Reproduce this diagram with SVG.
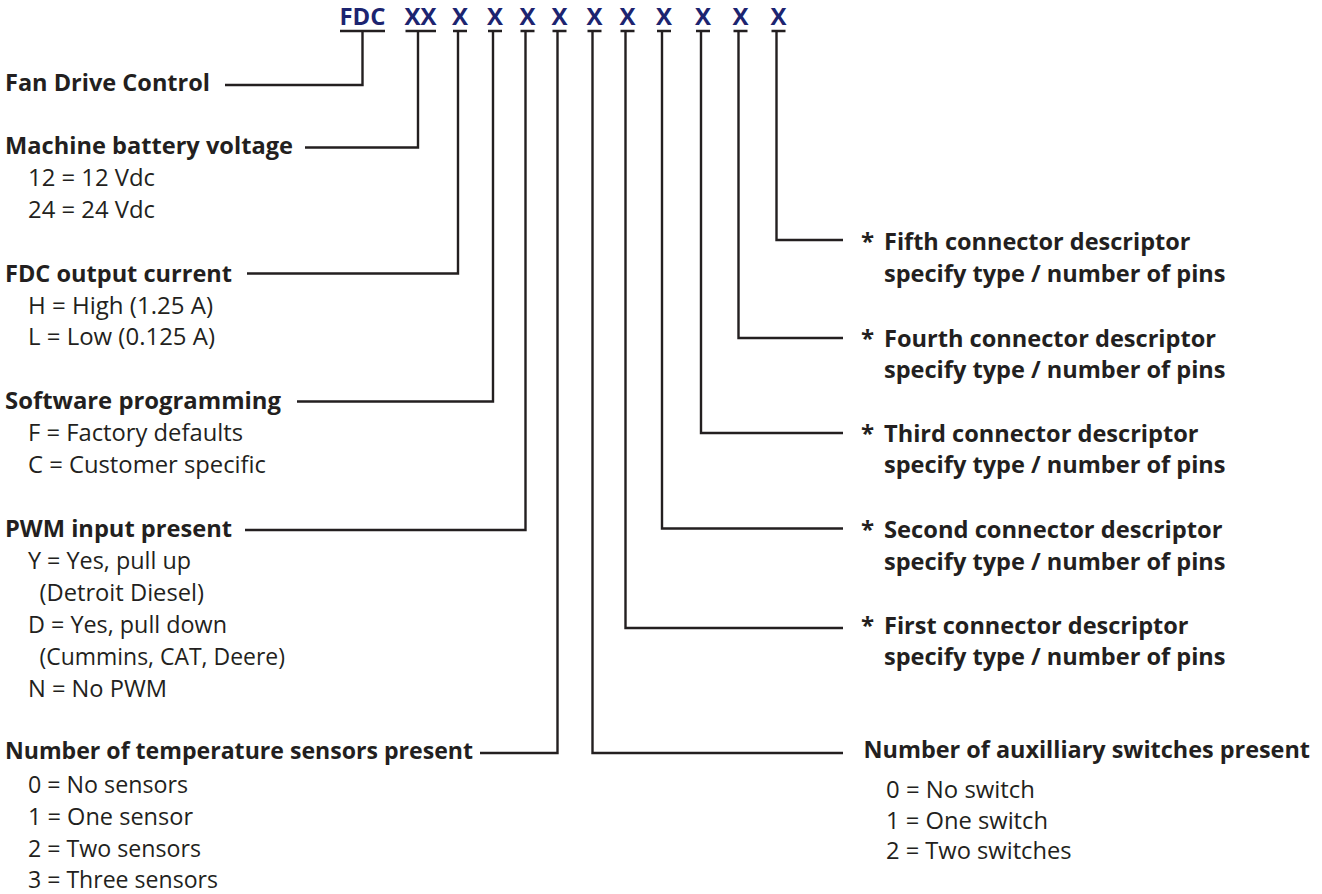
<svg xmlns="http://www.w3.org/2000/svg" width="1322" height="894" viewBox="0 0 1322 894">
<style>
  .code{font-family:"Open Sans","Liberation Sans",Arial,sans-serif;font-weight:bold;font-size:24px;fill:#1c2470;text-anchor:middle}
  .h{font-family:"Open Sans","Liberation Sans",Arial,sans-serif;font-weight:bold;font-size:24px;fill:#231f20}
  .t{font-family:"Open Sans","Liberation Sans",Arial,sans-serif;font-size:23.5px;fill:#231f20}
  .ul{stroke:#231f20;stroke-width:2.6;fill:none}
  .c{stroke:#231f20;stroke-width:2.4;fill:none}
</style>
<rect width="1322" height="894" fill="#ffffff"/>
<g id="code">
  <text class="code" x="362.5" y="25" textLength="46" lengthAdjust="spacingAndGlyphs">FDC</text>
  <text class="code" x="420.5" y="25" textLength="32" lengthAdjust="spacingAndGlyphs">XX</text>
  <text class="code" x="460" y="25">X</text>
  <text class="code" x="495" y="25">X</text>
  <text class="code" x="527.5" y="25">X</text>
  <text class="code" x="559.5" y="25">X</text>
  <text class="code" x="594.5" y="25">X</text>
  <text class="code" x="627.5" y="25">X</text>
  <text class="code" x="664" y="25">X</text>
  <text class="code" x="703" y="25">X</text>
  <text class="code" x="740.5" y="25">X</text>
  <text class="code" x="778.5" y="25">X</text>
  <path class="ul" d="M340 31H385 M405.5 31H436 M453 31H467 M488 31H502 M520.5 31H534.5 M552.5 31H566.5 M587.5 31H601.5 M620.5 31H634.5 M657 31H671 M696 31H710 M733.5 31H747.5 M771.5 31H785.5"/>
</g>
<g id="connectors">
  <path class="c" d="M362.5 31V85H225"/>
  <path class="c" d="M418 31V147.5H305"/>
  <path class="c" d="M458 31V273.5H247"/>
  <path class="c" d="M493 31V401.5H297"/>
  <path class="c" d="M525.5 31V530H245"/>
  <path class="c" d="M557.5 31V753H480"/>
  <path class="c" d="M592.5 31V753H843"/>
  <path class="c" d="M625.5 31V628H843"/>
  <path class="c" d="M662 31V528.5H843"/>
  <path class="c" d="M701 31V433H843"/>
  <path class="c" d="M738.5 31V338H843"/>
  <path class="c" d="M776.5 31V240H843"/>
</g>
<g id="fan-drive-control">
  <text class="h" x="5" y="90.5" textLength="205" lengthAdjust="spacingAndGlyphs">Fan Drive Control</text>
</g>
<g id="battery-voltage">
  <text class="h" x="5" y="154" textLength="288" lengthAdjust="spacingAndGlyphs">Machine battery voltage</text>
  <text class="t" x="28" y="186" textLength="127" lengthAdjust="spacingAndGlyphs">12 = 12 Vdc</text>
  <text class="t" x="28" y="218" textLength="127" lengthAdjust="spacingAndGlyphs">24 = 24 Vdc</text>
</g>
<g id="output-current">
  <text class="h" x="5" y="281.5" textLength="227" lengthAdjust="spacingAndGlyphs">FDC output current</text>
  <text class="t" x="28" y="313.5" textLength="185" lengthAdjust="spacingAndGlyphs">H = High (1.25 A)</text>
  <text class="t" x="28" y="345" textLength="187" lengthAdjust="spacingAndGlyphs">L = Low (0.125 A)</text>
</g>
<g id="software-programming">
  <text class="h" x="5" y="408.5" textLength="276" lengthAdjust="spacingAndGlyphs">Software programming</text>
  <text class="t" x="28" y="441" textLength="215" lengthAdjust="spacingAndGlyphs">F = Factory defaults</text>
  <text class="t" x="28" y="473" textLength="238" lengthAdjust="spacingAndGlyphs">C = Customer specific</text>
</g>
<g id="pwm-input">
  <text class="h" x="5" y="536.5" textLength="227" lengthAdjust="spacingAndGlyphs">PWM input present</text>
  <text class="t" x="28" y="569" textLength="163" lengthAdjust="spacingAndGlyphs">Y = Yes, pull up</text>
  <text class="t" x="39.5" y="601" textLength="164.5" lengthAdjust="spacingAndGlyphs">(Detroit Diesel)</text>
  <text class="t" x="28" y="633" textLength="199" lengthAdjust="spacingAndGlyphs">D = Yes, pull down</text>
  <text class="t" x="39.5" y="665" textLength="245.5" lengthAdjust="spacingAndGlyphs">(Cummins, CAT, Deere)</text>
  <text class="t" x="28" y="697" textLength="139" lengthAdjust="spacingAndGlyphs">N = No PWM</text>
</g>
<g id="temperature-sensors">
  <text class="h" x="5" y="759" textLength="468" lengthAdjust="spacingAndGlyphs">Number of temperature sensors present</text>
  <text class="t" x="28" y="792.5" textLength="160" lengthAdjust="spacingAndGlyphs">0 = No sensors</text>
  <text class="t" x="28" y="824.5" textLength="165" lengthAdjust="spacingAndGlyphs">1 = One sensor</text>
  <text class="t" x="28" y="856.5" textLength="173" lengthAdjust="spacingAndGlyphs">2 = Two sensors</text>
  <text class="t" x="28" y="888" textLength="190" lengthAdjust="spacingAndGlyphs">3 = Three sensors</text>
</g>
<g id="aux-switches">
  <text class="h" x="863.5" y="758" textLength="446.5" lengthAdjust="spacingAndGlyphs">Number of auxilliary switches present</text>
  <text class="t" x="886" y="798" textLength="149" lengthAdjust="spacingAndGlyphs">0 = No switch</text>
  <text class="t" x="886" y="828.5" textLength="162" lengthAdjust="spacingAndGlyphs">1 = One switch</text>
  <text class="t" x="886" y="859" textLength="185.5" lengthAdjust="spacingAndGlyphs">2 = Two switches</text>
</g>
<g id="fifth-connector">
  <text class="h" x="861" y="250">*</text>
  <text class="h" x="884" y="250" textLength="306.5" lengthAdjust="spacingAndGlyphs">Fifth connector descriptor</text>
  <text class="h" x="884" y="281.5" textLength="341.5" lengthAdjust="spacingAndGlyphs">specify type / number of pins</text>
</g>
<g id="fourth-connector">
  <text class="h" x="861" y="346.5">*</text>
  <text class="h" x="884" y="346.5" textLength="332" lengthAdjust="spacingAndGlyphs">Fourth connector descriptor</text>
  <text class="h" x="884" y="378" textLength="341.5" lengthAdjust="spacingAndGlyphs">specify type / number of pins</text>
</g>
<g id="third-connector">
  <text class="h" x="861" y="441.5">*</text>
  <text class="h" x="884" y="441.5" textLength="314.5" lengthAdjust="spacingAndGlyphs">Third connector descriptor</text>
  <text class="h" x="884" y="473" textLength="341.5" lengthAdjust="spacingAndGlyphs">specify type / number of pins</text>
</g>
<g id="second-connector">
  <text class="h" x="861" y="538">*</text>
  <text class="h" x="884" y="538" textLength="338.5" lengthAdjust="spacingAndGlyphs">Second connector descriptor</text>
  <text class="h" x="884" y="569.5" textLength="341.5" lengthAdjust="spacingAndGlyphs">specify type / number of pins</text>
</g>
<g id="first-connector">
  <text class="h" x="861" y="633.5">*</text>
  <text class="h" x="884" y="633.5" textLength="304.5" lengthAdjust="spacingAndGlyphs">First connector descriptor</text>
  <text class="h" x="884" y="665" textLength="341.5" lengthAdjust="spacingAndGlyphs">specify type / number of pins</text>
</g>
</svg>
